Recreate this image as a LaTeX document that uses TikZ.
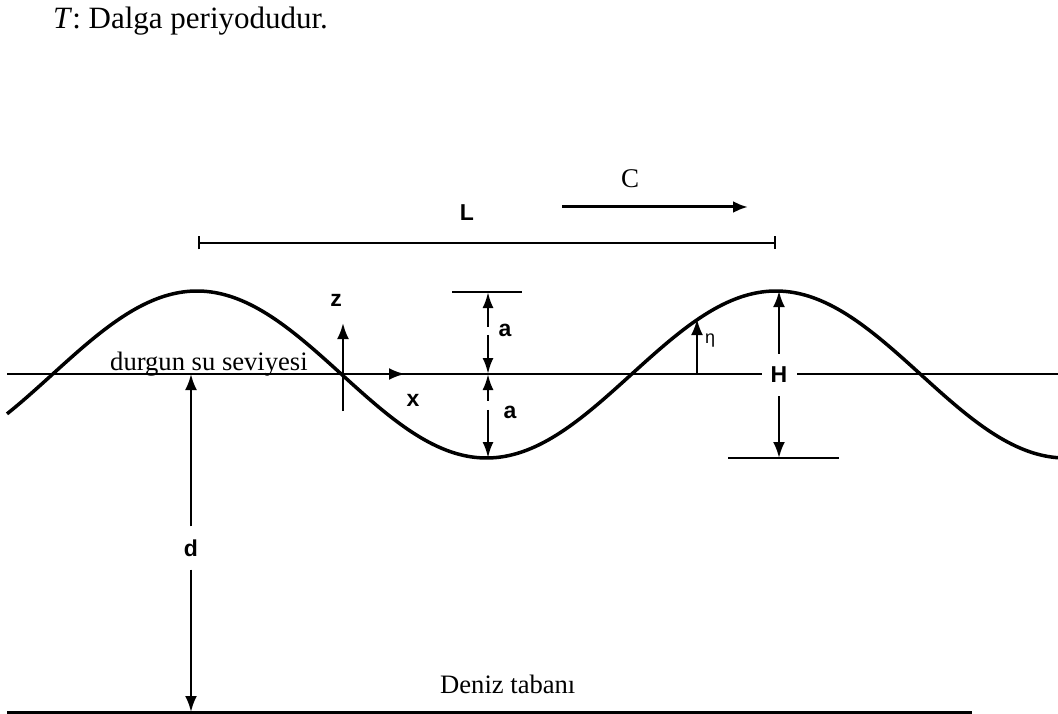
\documentclass[tikz,border=0pt]{standalone}
\usepackage{fontspec}
\setmainfont{Liberation Serif}
\setsansfont{Liberation Sans}
\usetikzlibrary{arrows.meta}
\begin{document}
\begin{tikzpicture}[x=1pt,y=-1pt,
  wave/.style={line width=3.5pt, line join=round},
  base/.style={line width=2.4pt},
  arr/.style={line width=2.5pt, -{Latex[length=16pt,width=12pt]}},
  darr/.style={line width=2.5pt, {Latex[length=16pt,width=11pt]}-{Latex[length=16pt,width=11pt]}},
  lbl/.style={font=\fontsize{23}{28}\selectfont\sffamily\bfseries, inner sep=0pt},
  serif/.style={font=\fontsize{26.6}{30}\selectfont, inner sep=0pt}]
\useasboundingbox (0,0) rectangle (1058,714);

% title
\node[font=\fontsize{31}{36}\selectfont, inner sep=0pt, anchor=base west] (title) at (53,29) {\textit{T}: Dalga periyodudur.};

% still water line
\coordinate (wl-l) at (7,374);
\coordinate (wl-r) at (1058,374);
\draw[base] (wl-l) -- (wl-r);
\node[serif, anchor=base west] (dss) at (110,370) {durgun su seviyesi};

% wave
\draw[wave] plot[domain=7:1058, samples=300, smooth] (\x,{374.5-83.5*cos((\x-197)/579*360)});

% L
\coordinate (L-l) at (198,243);
\coordinate (L-r) at (776,243);
\draw[line width=2.2pt, {Bar[width=13pt]}-{Bar[width=13pt]}] (L-l) -- (L-r);
\node[lbl] (Ll) at (467,213) {L};

% C
\node[font=\fontsize{27}{30}\selectfont, inner sep=0pt] (Cl) at (630,179) {C};
\coordinate (C-s) at (562,207);
\coordinate (C-e) at (748,207);
\draw[line width=3pt, -{Latex[length=15pt,width=12pt]}] (C-s) -- (C-e);

% z and x axes
\coordinate (zb) at (343,411);
\coordinate (zt) at (343,323);
\draw[arr] (zb) -- (zt);
\node[lbl] (zl) at (336,300) {z};
\coordinate (xo) at (343,374);
\coordinate (xt) at (405,374);
\draw[arr] (xo) -- (xt);
\node[lbl] (xl) at (413,400) {x};

% a dimensions
\coordinate (abar-l) at (452,292);
\coordinate (abar-r) at (522,292);
\draw[base] (abar-l) -- (abar-r);
\coordinate (a-top) at (488,292);
\coordinate (a-mid) at (488,374);
\coordinate (a-bot) at (488,458);
\draw[darr, dash pattern=on 20pt off 8pt on 200pt] (a-top) -- (a-mid);
\draw[darr, dash pattern=on 12pt off 9pt on 200pt] (a-mid) -- (a-bot);
\node[lbl] (a1) at (505,330) {a};
\node[lbl] (a2) at (510,412) {a};

% eta
\coordinate (eta-b) at (697,374);
\coordinate (eta-t) at (697,319);
\draw[arr] (eta-b) -- (eta-t);
\node[font=\fontsize{18}{20}\selectfont\sffamily, inner sep=0pt] (etal) at (710,341) {η};

% H
\node[lbl, fill=white, minimum width=35pt, minimum height=42pt] (Hl) at (779,375) {H};
\coordinate (H-top) at (779,291);
\coordinate (H-bot) at (779,458);
\draw[arr] (Hl) -- (H-top);
\draw[arr] (Hl) -- (H-bot);
\coordinate (Hbar-l) at (728,458);
\coordinate (Hbar-r) at (839,458);
\draw[base] (Hbar-l) -- (Hbar-r);

% d
\node[lbl, minimum width=20pt, minimum height=43pt] (dl) at (191,548) {d};
\coordinate (d-top) at (191,374);
\coordinate (d-bot) at (191,712);
\draw[arr] (dl) -- (d-top);
\draw[arr] (dl) -- (d-bot);

% sea bed
\coordinate (sb-l) at (7,712);
\coordinate (sb-r) at (972,712);
\draw[line width=3pt] (sb-l) -- (sb-r);
\node[serif, anchor=base west] (dt) at (440,693) {Deniz tabanı};
\end{tikzpicture}
\end{document}
